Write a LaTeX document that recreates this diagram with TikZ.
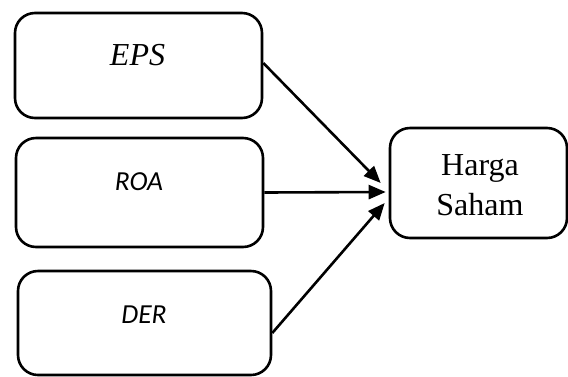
\documentclass[tikz,border=0pt]{standalone}
\usepackage{fontspec}
\setmainfont{Liberation Serif}
\newfontfamily\calib{Carlito}
\usetikzlibrary{arrows.meta,calc}
\begin{document}
\begin{tikzpicture}[x=1pt,y=-1pt,
  box/.style={draw, line width=2.6pt, rounded corners=20pt, inner sep=0pt},
  lbl/.style={anchor=base, inner sep=0pt},
  conn/.style={line width=2.6pt, -{Triangle[length=17pt,width=14pt]}}]
\useasboundingbox (0,0) rectangle (568,376);
\node[box, minimum width=247pt, minimum height=105pt] (eps) at (138.5,65.5) {};
\node[box, minimum width=247pt, minimum height=109pt] (roa) at (139.5,192.5) {};
\node[box, minimum width=253pt, minimum height=104pt] (der) at (144.5,323) {};
\node[box, minimum width=177pt, minimum height=110pt] (harga) at (478.5,183) {};
\node[lbl, font=\fontsize{32}{36}\selectfont\itshape] (epst) at (137.5,65) {EPS};
\node[lbl, font=\calib\fontsize{27.5}{30}\selectfont\itshape] (roat) at (139,190) {ROA};
\node[lbl, font=\calib\fontsize{27.5}{30}\selectfont\itshape] (dert) at (144,323) {DER};
\node[lbl, font=\fontsize{32}{36}\selectfont] (hargat) at (480,175) {Harga};
\node[lbl, font=\fontsize{32}{36}\selectfont] (sahamt) at (480,215) {Saham};
\draw[conn] ($(eps.east)+(0,-2.5)$) -- ($(harga.west)+(-8,0)$);
\draw[conn] (roa.east) -- ($(harga.west)+(-3,9)$);
\draw[conn] ($(der.east)+(0,10)$) -- ($(harga.west)+(-4,20)$);
\end{tikzpicture}
\end{document}
